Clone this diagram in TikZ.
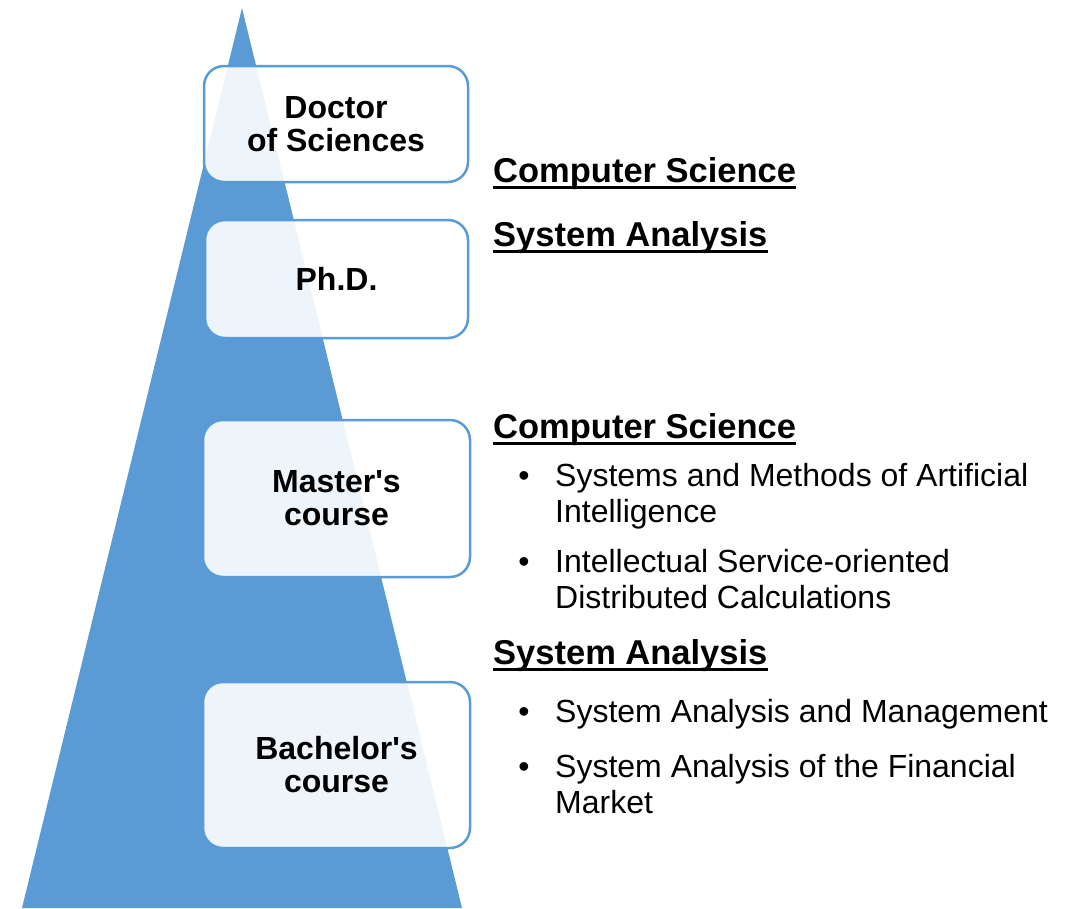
\documentclass[tikz,border=0pt]{standalone}
\usepackage{fontspec}
\setmainfont{Liberation Sans}
\definecolor{triblue}{HTML}{5B9BD5}
\newcommand{\topstrut}{\rule{0pt}{26pt}}
\begin{document}
\begin{tikzpicture}[x=1pt,y=-1pt,
  level/.style={draw=triblue, line width=2.5pt, rounded corners=20pt, fill=white, fill opacity=0.9, text opacity=1,
    align=center, font=\fontsize{32}{33}\selectfont\bfseries, inner sep=0pt},
  heading/.style={anchor=base west, inner sep=0pt, font=\fontsize{34.5}{36}\selectfont\bfseries},
  item/.style={anchor=north west, inner sep=0pt, align=left, font=\fontsize{32}{36}\selectfont},
  bul/.style={anchor=base, inner sep=0pt, font=\fontsize{32}{36}\selectfont},
  uline/.style={line width=3pt}]
\useasboundingbox (0,0) rectangle (1068,908);
\fill[triblue] (242,8) -- (462,908) -- (22,908) -- cycle;
\node[level, minimum width=264pt, minimum height=116pt] (doc) at (336,124) {Doctor\\of Sciences};
\node[level, minimum width=263pt, minimum height=118pt] (phd) at (336.5,279) {Ph.D.};
\node[level, minimum width=267pt, minimum height=157pt] (mas) at (336.5,498.5) {Master\textquotesingle s\\course};
\node[level, minimum width=267pt, minimum height=166pt] (bac) at (336.5,765) {Bachelor\textquotesingle s\\course};
% headings
\node[heading] (h1) at (493,182) {Computer Science};
\node[heading] (h2) at (493,246) {System Analysis};
\node[heading] (h3) at (493,438) {Computer Science};
\node[heading] (h4) at (493,664) {System Analysis};
\foreach \h in {h1,h2,h3,h4}{
  \draw[uline] ([yshift=-5pt]\h.base west) -- ([yshift=-5pt]\h.base east);
}
% items
\node[bul] (b1) at (524,486) {•};
\node[item] (i1) at (555,460) {\topstrut Systems and Methods of Artificial\\Intelligence};
\node[bul] (b2) at (524,572) {•};
\node[item] (i2) at (555,546) {\topstrut Intellectual Service-oriented\\Distributed Calculations};
\node[bul] (b3) at (524,722) {•};
\node[item] (i3) at (555,696) {\topstrut System Analysis and Management};
\node[bul] (b4) at (524,777) {•};
\node[item] (i4) at (555,751) {\topstrut System Analysis of the Financial\\Market};
\end{tikzpicture}
\end{document}
